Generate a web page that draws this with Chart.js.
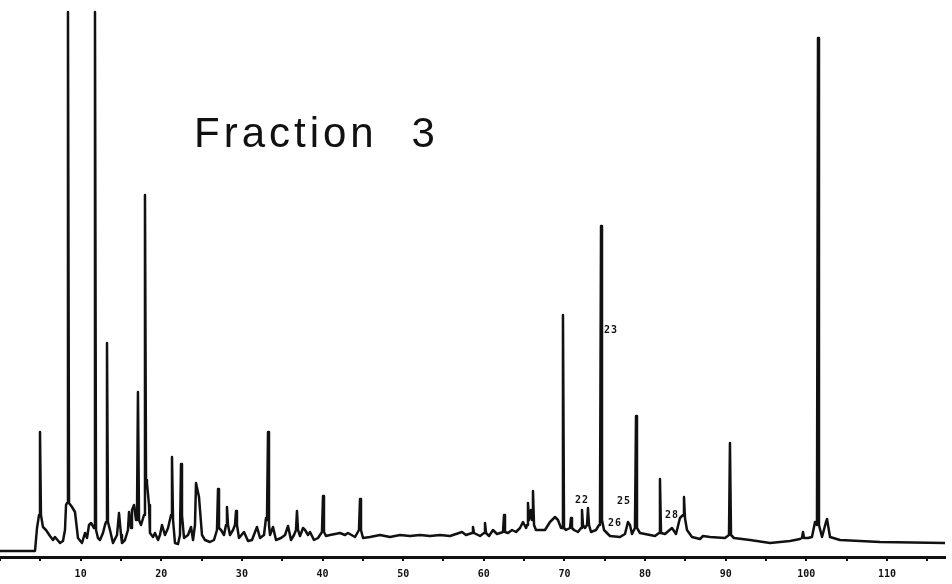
<!DOCTYPE html>
<html>
<head>
<meta charset="utf-8">
<script src="https://cdn.jsdelivr.net/npm/chart.js@4"></script>
<style>
  html, body { margin: 0; padding: 0; background: #fff; }
  #wrap { width: 952px; height: 584px; }
</style>
</head>
<body>
<div id="wrap"><canvas id="chromatogram"></canvas></div>
<script>
// retention time (min) and detector response
const traceTimes = [
  0, 4.34, 4.59, 4.84, 4.96, 5.08, 5.33, 5.70, 6.20, 6.57, 6.82, 7.44, 7.81, 8.06, 8.19, 8.31, 8.43, 8.56, 8.93, 9.30,
  9.67, 10.17, 10.54, 10.79, 11.04, 11.29, 11.66, 11.78, 11.91, 12.15, 12.40, 12.77, 13.02, 13.15, 13.27, 13.39, 13.64, 14.01, 14.51, 14.76,
  15.01, 15.13, 15.50, 15.87, 16.00, 16.25, 16.37, 16.62, 16.87, 16.99, 17.11, 17.24, 17.49, 17.86, 17.98, 18.11, 18.23, 18.48, 18.60, 18.98,
  19.22, 19.60, 19.84, 20.09, 20.46, 20.84, 21.21, 21.33, 21.46, 21.70, 22.08, 22.32, 22.45, 22.57, 22.82, 23.32, 23.69, 23.94, 24.18, 24.31,
  24.68, 25.05, 25.42, 26.04, 26.54, 26.91, 27.04, 27.16, 27.41, 27.78, 28.03, 28.15, 28.28, 28.52, 28.90, 29.14, 29.27, 29.39, 29.64, 30.26,
  30.76, 31.25, 31.87, 32.25, 32.74, 32.99, 33.11, 33.24, 33.36, 33.49, 33.86, 34.23, 34.85, 35.35, 35.72, 36.09, 36.46, 36.71, 36.83, 36.96,
  37.21, 37.58, 37.83, 38.20, 38.45, 38.94, 39.44, 39.93, 40.06, 40.18, 40.43, 40.93, 41.55, 42.17, 42.79, 43.16, 44.03, 44.52, 44.65, 44.77,
  45.02, 45.89, 47.13, 48.37, 49.61, 50.85, 52.09, 53.33, 54.57, 55.81, 57.30, 57.79, 58.54, 58.66, 58.79, 59.53, 60.03, 60.15, 60.28, 60.65,
  61.14, 61.64, 62.38, 62.51, 62.63, 63.00, 63.50, 63.99, 64.49, 64.86, 65.24, 65.36, 65.48, 65.61, 65.85, 65.98, 66.10, 66.23, 66.47, 67.59,
  68.21, 68.83, 69.20, 69.58, 69.70, 69.82, 69.95, 70.20, 70.69, 70.82, 70.94, 71.19, 71.68, 72.06, 72.18, 72.30, 72.55, 72.80, 72.92, 73.05,
  73.30, 73.92, 74.29, 74.41, 74.54, 74.66, 74.91, 75.65, 76.89, 77.51, 77.88, 78.13, 78.38, 78.75, 78.88, 79.00, 79.37, 80.61, 81.23, 81.73,
  81.85, 81.98, 82.47, 83.34, 83.84, 84.33, 84.71, 84.83, 84.95, 85.20, 85.82, 86.81, 87.19, 88.05, 89.91, 90.41, 90.53, 90.66, 91.03, 93.02,
  95.50, 97.98, 99.22, 99.46, 99.59, 99.72, 100.21, 100.70, 101.08, 101.32, 101.45, 101.57, 101.95, 102.44, 102.57, 102.69, 102.94, 104.18, 109.14, 117.20
];
const traceSignal = [
  6, 6, 29, 42, 125, 42, 30, 27, 21, 17, 20, 14, 16, 27, 52, 54, 545, 54, 50, 45,
  19, 14, 24, 19, 32, 34, 29, 545, 27, 19, 17, 24, 32, 35, 214, 35, 27, 14, 22, 44,
  22, 14, 17, 27, 45, 29, 47, 52, 37, 42, 165, 37, 32, 42, 362, 77, 74, 52, 24, 20,
  24, 17, 22, 32, 22, 29, 42, 100, 37, 14, 13, 22, 93, 42, 19, 22, 30, 17, 32, 74,
  60, 22, 17, 15, 17, 27, 68, 29, 27, 22, 32, 50, 32, 22, 27, 32, 46, 32, 19, 25,
  16, 17, 30, 19, 22, 39, 37, 125, 32, 22, 30, 17, 19, 22, 31, 17, 22, 27, 46, 27,
  21, 29, 27, 22, 25, 17, 19, 25, 61, 25, 21, 22, 23, 24, 22, 24, 20, 27, 58, 27,
  19, 20, 22, 20, 22, 21, 22, 21, 22, 21, 25, 22, 24, 30, 24, 21, 24, 34, 24, 21,
  27, 23, 25, 42, 25, 24, 27, 25, 29, 35, 29, 32, 54, 37, 47, 37, 66, 32, 27, 27,
  35, 40, 37, 29, 29, 242, 29, 27, 29, 39, 29, 27, 25, 29, 47, 32, 29, 32, 49, 32,
  25, 27, 32, 37, 331, 37, 27, 21, 20, 23, 35, 32, 23, 29, 141, 29, 24, 22, 21, 24,
  78, 24, 23, 29, 23, 39, 42, 60, 39, 27, 20, 18, 21, 20, 19, 22, 114, 22, 19, 17,
  14, 16, 18, 19, 25, 19, 19, 20, 35, 32, 519, 32, 20, 35, 38, 32, 20, 17, 15, 14
];
const tickValues = [10, 20, 30, 40, 50, 60, 70, 80, 90, 100, 110];
const peakLabels = ['22', '23', '25', '26', '28'];
const peakLabelTimes = [72.18, 75.78, 77.39, 76.27, 83.34];
const peakLabelSignal = [57, 227, 56, 34, 42];
const chartTitle = 'Fraction 3';

const points = traceTimes.map((t, i) => ({ x: t, y: traceSignal[i] }));

const annotations = {
  id: 'annotations',
  afterDraw(chart) {
    const ctx = chart.ctx;
    const xs = chart.scales.x, ys = chart.scales.y;
    ctx.save();
    ctx.fillStyle = '#111';
    // title
    ctx.font = '42px "Liberation Sans", Arial, sans-serif';
    ctx.textBaseline = 'alphabetic';
    ctx.textAlign = 'left';
    if ('letterSpacing' in ctx) ctx.letterSpacing = '4px';
    if ('wordSpacing' in ctx) ctx.wordSpacing = '18px';
    ctx.fillText(chartTitle, 194, 147);
    if ('letterSpacing' in ctx) ctx.letterSpacing = '1px';
    if ('wordSpacing' in ctx) ctx.wordSpacing = '0px';
    // peak numbers
    ctx.font = 'bold 10px "DejaVu Sans Mono", monospace';
    ctx.textAlign = 'center';
    ctx.textBaseline = 'middle';
    peakLabels.forEach((lab, i) => {
      ctx.fillText(lab, xs.getPixelForValue(peakLabelTimes[i]), ys.getPixelForValue(peakLabelSignal[i]));
    });
    ctx.restore();
  }
};

new Chart(document.getElementById('chromatogram'), {
  type: 'line',
  data: {
    datasets: [{
      data: points,
      borderColor: '#111',
      borderWidth: 2.5,
      borderJoinStyle: 'round',
      pointRadius: 0,
      tension: 0,
      fill: false
    }]
  },
  options: {
    responsive: true,
    maintainAspectRatio: false,
    animation: false,
    layout: { padding: { top: 0, left: 0, right: 7, bottom: 0 } },
    plugins: { legend: { display: false }, tooltip: { enabled: false } },
    scales: {
      x: {
        type: 'linear',
        min: 0,
        max: 117.2,
        afterFit: (scale) => { scale.height = 27; },
        border: { display: true, color: '#111', width: 3 },
        grid: { drawOnChartArea: false, drawTicks: true, tickLength: 4, color: '#111', lineWidth: 2 },
        ticks: {
          stepSize: 5,
          includeBounds: false,
          autoSkip: false,
          maxRotation: 0,
          padding: 0,
          color: '#111',
          font: { family: '"DejaVu Sans Mono", monospace', size: 10, weight: 'bold', lineHeight: 2.6 },
          callback: (v) => tickValues.includes(v) ? String(v) : ''
        }
      },
      y: { display: false, min: 0, max: 557 }
    }
  },
  plugins: [annotations]
});
</script>
</body>
</html>
